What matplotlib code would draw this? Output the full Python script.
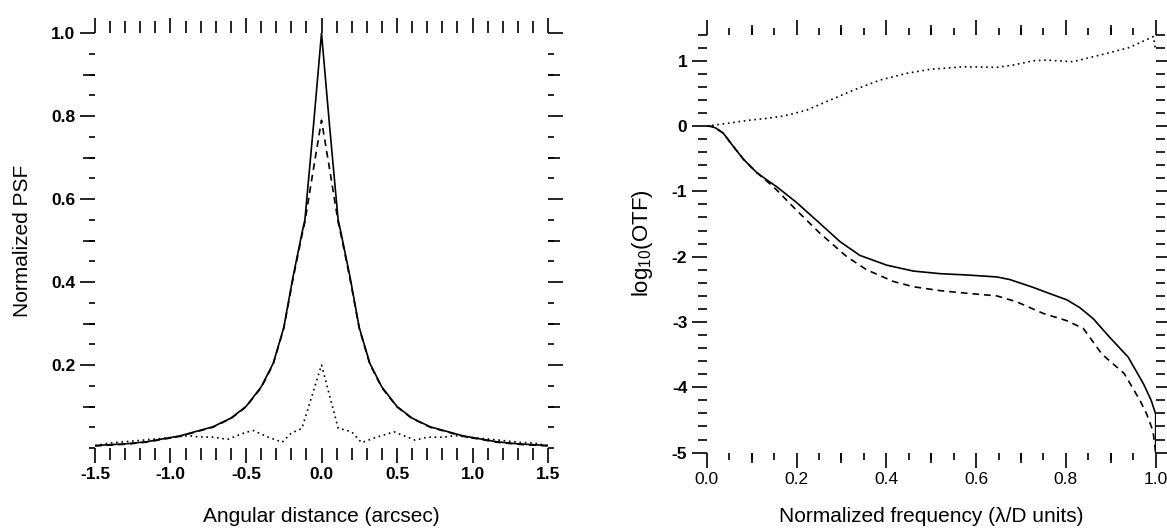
import numpy as np
import matplotlib
matplotlib.use('Agg')
import matplotlib.pyplot as plt
from matplotlib.ticker import MultipleLocator, FixedLocator

plt.rcParams['font.family'] = ['Liberation Sans', 'DejaVu Sans']
plt.rcParams['mathtext.fontset'] = 'custom'
plt.rcParams['mathtext.rm'] = 'Liberation Sans'
plt.rcParams['axes.unicode_minus'] = False

# ---- left panel: PSF cuts (angular distance in arcsec) ----
psf_x = [-1.5, -1.3, -1.16, -0.94, -0.72, -0.6, -0.5, -0.4, -0.32, -0.25, -0.19, -0.13, -0.11, -0.05, 0.0,
         0.05, 0.11, 0.13, 0.19, 0.25, 0.32, 0.4, 0.5, 0.6, 0.72, 0.94, 1.16, 1.3, 1.5]
psf_solid = [0.006, 0.010, 0.015, 0.029, 0.051, 0.072, 0.100, 0.147, 0.204, 0.290, 0.410, 0.517, 0.550, 0.790, 1.000,
             0.790, 0.550, 0.517, 0.410, 0.290, 0.204, 0.147, 0.100, 0.072, 0.051, 0.029, 0.015, 0.010, 0.006]
psf_dashed = [0.005, 0.009, 0.014, 0.028, 0.050, 0.071, 0.099, 0.145, 0.202, 0.288, 0.405, 0.512, 0.545, 0.680, 0.790,
              0.680, 0.545, 0.512, 0.405, 0.288, 0.202, 0.145, 0.099, 0.071, 0.050, 0.028, 0.014, 0.009, 0.005]

dot_x = [-1.5, -1.4, -1.15, -1.0, -0.88, -0.82, -0.72, -0.62, -0.5, -0.45, -0.36, -0.26, -0.2, -0.13, 0.0,
         0.11, 0.2, 0.265, 0.34, 0.48, 0.62, 0.7, 0.81, 0.88, 1.0, 1.15, 1.3, 1.4, 1.5]
dot_y = [0.006, 0.012, 0.020, 0.025, 0.030, 0.027, 0.026, 0.021, 0.038, 0.042, 0.027, 0.014, 0.036, 0.047, 0.200,
         0.048, 0.039, 0.013, 0.023, 0.039, 0.019, 0.026, 0.026, 0.030, 0.025, 0.020, 0.014, 0.012, 0.006]

# ---- right panel: log10 OTF vs normalized frequency ----
otf_f = [0.0, 0.01, 0.02, 0.037, 0.059, 0.082, 0.111, 0.135, 0.156, 0.2, 0.252, 0.297, 0.341, 0.401, 0.46, 0.52,
         0.579, 0.646, 0.675, 0.727, 0.762, 0.802, 0.831, 0.861, 0.897, 0.939, 0.973, 0.99, 1.0, 1.0]
otf_solid = [0.0, -0.005, -0.03, -0.11, -0.31, -0.51, -0.71, -0.83, -0.93, -1.17, -1.49, -1.77, -1.98, -2.13, -2.22,
             -2.26, -2.28, -2.31, -2.35, -2.47, -2.56, -2.66, -2.78, -2.95, -3.23, -3.54, -3.95, -4.2, -4.41, -5.0]
otf_f2 = [0.0, 0.01, 0.02, 0.037, 0.059, 0.082, 0.111, 0.135, 0.156, 0.2, 0.252, 0.312, 0.356, 0.416, 0.46, 0.52,
          0.579, 0.646, 0.69, 0.75, 0.802, 0.839, 0.88, 0.93, 0.965, 0.98, 0.994, 1.0]
otf_dashed = [0.0, -0.005, -0.03, -0.11, -0.31, -0.51, -0.71, -0.85, -0.98, -1.29, -1.64, -2.0, -2.2, -2.38, -2.46,
              -2.52, -2.56, -2.6, -2.69, -2.87, -2.98, -3.1, -3.49, -3.79, -4.2, -4.41, -4.67, -5.0]
ph_f = [0.0, 0.05, 0.089, 0.13, 0.163, 0.19, 0.223, 0.275, 0.327, 0.386, 0.445, 0.497, 0.571, 0.646, 0.683, 0.727,
        0.757, 0.816, 0.876, 0.94, 0.995, 1.0]
ph_y = [0.0, 0.045, 0.085, 0.115, 0.145, 0.185, 0.245, 0.398, 0.551, 0.704, 0.807, 0.868, 0.908, 0.899, 0.934, 1.0,
        1.01, 0.985, 1.087, 1.2, 1.37, 1.15]

DOT = (0, (1, 2.2))
DASH = (0, (4, 3))


def style(ax, xmaj, xmin, ymaj, ymin, xlen, ylen, xmed=None, ymed=None, medlen=8):
    # xlen / ylen: (major, minor) tick lengths in points
    for s in ax.spines.values():
        s.set_visible(False)
    ax.xaxis.set_major_locator(MultipleLocator(xmaj))
    ax.xaxis.set_minor_locator(MultipleLocator(xmin))
    ax.yaxis.set_major_locator(MultipleLocator(ymaj))
    ax.yaxis.set_minor_locator(MultipleLocator(ymin))
    ax.tick_params(which='both', direction='out', top=True, right=True, width=1.2, color='black')
    ax.tick_params(which='major', labelsize=12.5, pad=3)
    ax.tick_params(axis='x', which='major', length=xlen[0])
    ax.tick_params(axis='x', which='minor', length=xlen[1])
    ax.tick_params(axis='y', which='major', length=ylen[0])
    ax.tick_params(axis='y', which='minor', length=ylen[1])
    # medium ticks drawn with secondary axes
    if xmed is not None:
        for loc in ('top', 'bottom'):
            sec = ax.secondary_xaxis(loc)
            sec.xaxis.set_major_locator(FixedLocator(xmed))
            sec.tick_params(direction='out', length=medlen, width=1.2, labelbottom=False, labeltop=False)
            for s in sec.spines.values():
                s.set_visible(False)
    if ymed is not None:
        for loc in ('left', 'right'):
            sec = ax.secondary_yaxis(loc)
            sec.yaxis.set_major_locator(FixedLocator(ymed))
            sec.tick_params(direction='out', length=medlen, width=1.2, labelleft=False, labelright=False)
            for s in sec.spines.values():
                s.set_visible(False)


fig = plt.figure(figsize=(11.67, 5.31), dpi=100)

ax1 = fig.add_axes([0.0814, 0.1563, 0.3882, 0.7815])
ax1.plot(psf_x, psf_solid, color='black', lw=1.2)
ax1.plot(psf_x, psf_dashed, color='black', lw=1.2, ls=DASH)
ax1.plot(dot_x, dot_y, color='black', lw=1.2, ls=DOT)
ax1.set_xlim(-1.5, 1.5)
ax1.set_ylim(0, 1.0)
style(ax1, 0.5, 0.1, 0.2, 0.05, xlen=(11, 8.5), ylen=(11, 4), ymed=[0.1, 0.3, 0.5, 0.7, 0.9], medlen=8.5)
ax1.set_yticks([0.2, 0.4, 0.6, 0.8, 1.0])
for lab in ax1.get_xticklabels() + ax1.get_yticklabels():
    lab.set_fontweight('bold')
ax1.set_xlabel('Angular distance (arcsec)', fontsize=15, labelpad=18)
ax1.set_ylabel('Normalized PSF', fontsize=15, labelpad=14)

ax2 = fig.add_axes([0.6056, 0.1476, 0.3847, 0.7872])
ax2.plot(otf_f, otf_solid, color='black', lw=1.2)
ax2.plot(otf_f2, otf_dashed, color='black', lw=1.2, ls=DASH)
ax2.plot(ph_f, ph_y, color='black', lw=1.2, ls=DOT)
ax2.set_xlim(0, 1.0)
ax2.set_ylim(-5, 1.4)
style(ax2, 0.2, 0.05, 1, 0.2, xlen=(11, 5), ylen=(11, 6.5), xmed=[0.1, 0.3, 0.5, 0.7, 0.9], medlen=7.5)
for lab in ax2.get_yticklabels():
    lab.set_fontweight('bold')
ax2.set_xlabel('Normalized frequency (λ/D units)', fontsize=15, labelpad=14)
ax2.set_ylabel(r'log$_{\mathrm{10}}$(OTF)', fontsize=16, labelpad=12)

fig.savefig('out.png', dpi=100)
